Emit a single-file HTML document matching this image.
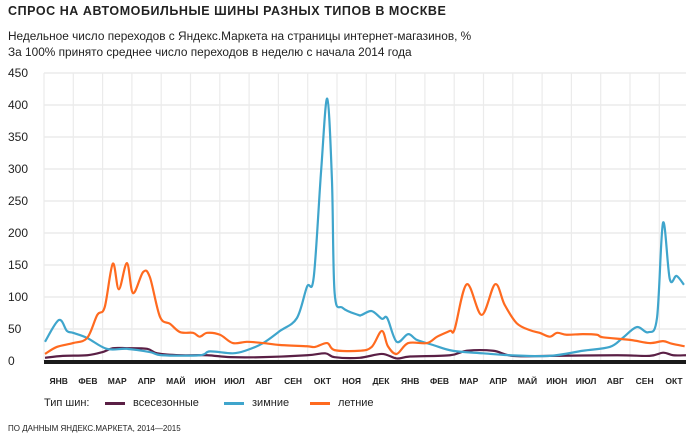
<!DOCTYPE html>
<html><head><meta charset="utf-8">
<style>
body{margin:0;background:#fff;font-family:"Liberation Sans","Noto Sans CJK SC",sans-serif;}
#wrap{position:relative;width:700px;height:446px;overflow:hidden;}
.t{position:absolute;white-space:nowrap;color:#222;}
</style></head><body>
<div id="wrap">
<div class="t" style="left:8px;top:4px;font-size:12.5px;font-weight:bold;letter-spacing:0.55px;">СПРОС НА АВТОМОБИЛЬНЫЕ ШИНЫ РАЗНЫХ ТИПОВ В МОСКВЕ</div>
<div class="t" style="left:8px;top:29px;font-size:11.85px;">Недельное число переходов с Яндекс.Маркета на страницы интернет-магазинов, %</div>
<div class="t" style="left:8px;top:45px;font-size:11.85px;">За 100% принято среднее число переходов в неделю с начала 2014 года</div>
<svg id="chart" width="700" height="446" style="position:absolute;left:0;top:0"></svg>
<div class="t" style="left:44px;top:397px;font-size:11px;">Тип шин:</div>
<div class="t" style="left:105px;top:397px;font-size:11px;"><span style="display:inline-block;width:20px;height:3px;background:#5a1f45;vertical-align:middle;margin-right:8px"></span>всесезонные</div>
<div class="t" style="left:224px;top:397px;font-size:11px;"><span style="display:inline-block;width:20px;height:3px;background:#3fa5cc;vertical-align:middle;margin-right:8px"></span>зимние</div>
<div class="t" style="left:310px;top:397px;font-size:11px;"><span style="display:inline-block;width:20px;height:3px;background:#ff6a1f;vertical-align:middle;margin-right:8px"></span>летние</div>
<div class="t" style="left:8px;top:424px;font-size:8px;">ПО ДАННЫМ ЯНДЕКС.МАРКЕТА, 2014—2015</div>
</div>
<script>
const months=["ЯНВ","ФЕВ","МАР","АПР","МАЙ","ИЮН","ИЮЛ","АВГ","СЕН","ОКТ","НОЯ","ДЕК","ЯНВ","ФЕВ","МАР","АПР","МАЙ","ИЮН","ИЮЛ","АВГ","СЕН","ОКТ"];
const yTicks=[0,50,100,150,200,250,300,350,400,450];
const winterWeeks=[0.15,2.2,3.4,4.3,6.4,9.3,12.3,15.7,17.5,23.1,24.6,28,30.1,32.5,35,37.5,39,40,41.1,42,42.7,43.1,44.3,46.6,47.1,48.6,50.1,50.9,52.3,54,55.3,57.7,60.6,65.1,69.1,75,79.9,83.9,85.8,87.9,89.6,90.9,91.8,92.8,93.8,94.9];
const winterVals=[30,64,47,44,36,19,19,14,9,9,15,12,17,28,47,67,116,131,298,410,283,106,83,72,72,78,66,67,30,42,33,25,16,12,9,8,16,22,36,53,45,67,216,128,133,119];
const summerWeeks=[0.15,1.9,4.3,6.4,7.9,9,10.2,11.1,12.3,13.2,14.7,15.7,17.2,18.7,20.2,22.1,23.1,24.2,26.1,28,30.1,32.5,35,39,40.2,42,43.1,46.8,48.6,50.1,51,52.3,54,56.8,58.3,60.2,60.9,62.7,64.9,66.9,68.3,70.1,72.1,73.5,75,76.1,77.5,79.9,82,82.9,86.9,89.8,91.8,93.1,95];
const summerVals=[11,22,28,36,72,84,152,112,153,106,139,131,69,58,45,44,38,44,41,28,30,28,25,23,22,28,17,16,22,47,23,11,28,28,38,47,50,120,72,120,88,59,48,44,38,44,41,42,41,37,33,28,31,27,23];
const allWeeks=[0.15,2.8,6.4,8.7,10.2,12.3,15.3,16.8,20.2,24.2,27.6,32.5,39,41.7,43.1,46.8,50.1,52.3,54.3,60.2,62.7,66.6,69.5,75,85,89.8,91.8,93.3,95.2];
const allVals=[5,8,9,14,20,20,19,12,9,9,6,6,9,12,6,5,11,4,7,9,16,16,8,8,9,8,13,9,9];

const svg=document.getElementById('chart');
const NS='http://www.w3.org/2000/svg';
const X0=44,MW=29.3,X1=686,Y0=361,PPU=0.64;
const xw=w=>X0+w*(MW*12/52.14);
const yv=v=>Y0-v*PPU;
function mk(t,a){const e=document.createElementNS(NS,t);for(const k in a)e.setAttribute(k,a[k]);svg.appendChild(e);return e;}
yTicks.forEach(v=>{
  if(v>0){const g=mk('line',{x1:X0,x2:X1,y1:yv(v),y2:yv(v),stroke:'#ebebeb','stroke-width':1.5});
  
  }
  const t=mk('text',{x:8,y:yv(v)+4,'font-size':12,fill:'#222','font-family':'Liberation Sans, sans-serif'});
  t.textContent=v;
  
  
});
for(let i=0;i<=months.length;i++){
  const x=X0+i*MW; if(x>X1)break;
  const g=mk('line',{x1:x,x2:x,y1:yv(450),y2:Y0,stroke:'#ebebeb','stroke-width':1.2});
  
  
}
months.forEach((m,i)=>{
  const t=mk('text',{x:X0+(i+0.5)*MW,y:384,'font-size':8.5,'font-weight':'bold',fill:'#222','text-anchor':'middle','font-family':'Liberation Sans, sans-serif'});
  t.textContent=m;
  
  
});
function path(ws,vs){
  const p=ws.map((w,i)=>[xw(w),yv(vs[i])]);
  let d='M'+p[0][0]+','+p[0][1];
  for(let i=0;i<p.length-1;i++){
    const a=p[Math.max(0,i-1)],b=p[i],c=p[i+1],e=p[Math.min(p.length-1,i+2)];
    const c1=[b[0]+(c[0]-a[0])/6,b[1]+(c[1]-a[1])/6],c2=[c[0]-(e[0]-b[0])/6,c[1]-(e[1]-b[1])/6];
    d+=` C${c1[0]},${c1[1]} ${c2[0]},${c2[1]} ${c[0]},${c[1]}`;
  }
  return d;
}
const s1=mk('path',{d:path(allWeeks,allVals),fill:'none',stroke:'#5a1f45','stroke-width':2.2,'stroke-linejoin':'round'});


const s2=mk('path',{d:path(winterWeeks,winterVals),fill:'none',stroke:'#3fa5cc','stroke-width':2.2,'stroke-linejoin':'round'});


const s3=mk('path',{d:path(summerWeeks,summerVals),fill:'none',stroke:'#ff6a1f','stroke-width':2.2,'stroke-linejoin':'round'});


const ax=mk('rect',{x:X0,y:Y0-1,width:X1-X0,height:4,fill:'#1a1a1a'});


</script>
</body></html>
